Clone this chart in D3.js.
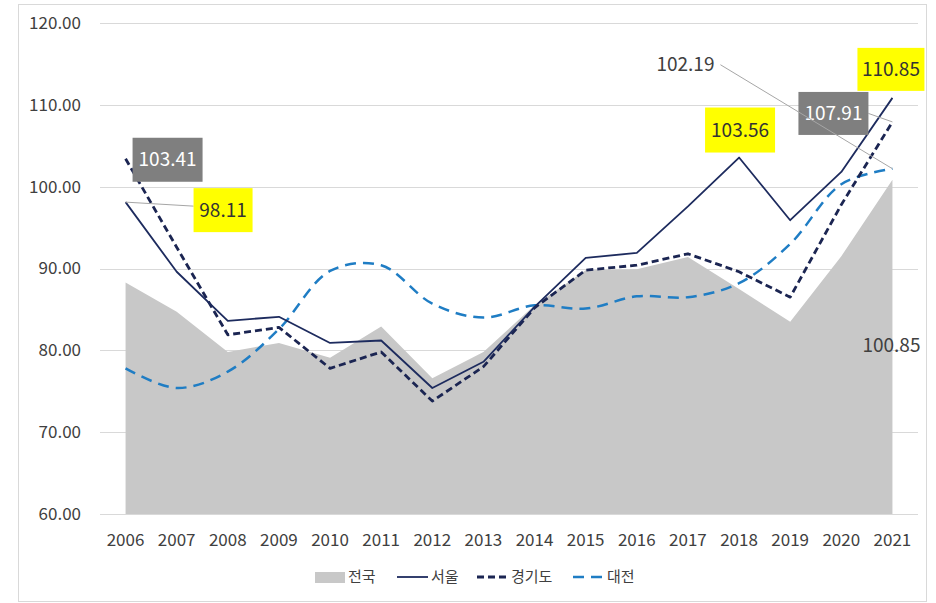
<!DOCTYPE html>
<meta charset="utf-8">
<style>
    * { margin: 0; padding: 0; }
    body { background: #fff; }
    svg text { font-family: "Noto Sans CJK KR", "Noto Sans", sans-serif; }
</style>
<body>
<svg id="chart" width="936" height="603"></svg>
<script src="https://cdn.jsdelivr.net/npm/d3@7"></script>
<script>
    const years = ["2006", "2007", "2008", "2009", "2010", "2011", "2012", "2013", "2014", "2015", "2016", "2017", "2018", "2019", "2020", "2021"];
    const national = [88.3, 84.7, 79.8, 80.9, 79.1, 82.9, 76.6, 79.8, 85.5, 89.8, 89.9, 91.4, 87.5, 83.5, 91.5, 100.85];
    const seoul = [98.11, 89.6, 83.6, 84.1, 80.9, 81.2, 75.4, 78.6, 85.3, 91.3, 91.9, 97.6, 103.56, 95.9, 101.8, 110.85];
    const gyeonggi = [103.41, 92.6, 81.9, 82.8, 77.8, 79.8, 73.8, 78.0, 85.2, 89.8, 90.4, 91.8, 89.6, 86.5, 97.8, 107.91];
    const daejeon = [77.8, 75.4, 77.4, 82.6, 89.7, 90.4, 85.7, 84.0, 85.5, 85.1, 86.6, 86.5, 88.2, 93.0, 100.3, 102.19];
    const yTicks = [60, 70, 80, 90, 100, 110, 120];

    const svg = d3.select("#chart");
    const x = d3.scalePoint().domain(years).range([100, 918]).padding(0.5);
    const y = d3.scaleLinear().domain([60, 120]).range([514, 23]);

    // frame
    svg.append("rect").attr("x", 18.5).attr("y", 4.5).attr("width", 908).attr("height", 597)
        .attr("fill", "none").attr("stroke", "#d9d9d9");

    // grid
    svg.append("g").selectAll("line").data(yTicks).join("line")
        .attr("x1", 100).attr("x2", 918)
        .attr("y1", d => Math.round(y(d)) + 0.5).attr("y2", d => Math.round(y(d)) + 0.5)
        .attr("stroke", "#d9d9d9");

    svg.append("g").selectAll("text").data(yTicks).join("text")
        .attr("x", 81).attr("y", d => y(d)).attr("dy", "0.35em")
        .attr("text-anchor", "end").attr("font-size", 17).attr("fill", "#404040")
        .text(d => d.toFixed(2));

    svg.append("g").selectAll("text").data(years).join("text")
        .attr("x", d => x(d)).attr("y", 546)
        .attr("text-anchor", "middle").attr("font-size", 17).attr("fill", "#404040")
        .text(d => d);

    // area 전국
    const area = d3.area().x((d, i) => x(years[i])).y0(y(60)).y1(d => y(d));
    svg.append("path").datum(national).attr("d", area).attr("fill", "#c8c8c8");

    const line = d3.line().x((d, i) => x(years[i])).y(d => y(d));
    const smooth = d3.line().x((d, i) => x(years[i])).y(d => y(d)).curve(d3.curveCatmullRom.alpha(0.5));

    const series = [
        { name: "대전", data: daejeon, color: "#1f7dc4", width: 2.5, dash: "11,7", gen: smooth },
        { name: "경기도", data: gyeonggi, color: "#1b2552", width: 2.8, dash: "7,4", gen: line },
        { name: "서울", data: seoul, color: "#1d2b5e", width: 1.8, dash: null, gen: line }
    ];
    series.forEach(s => {
        svg.append("path").datum(s.data).attr("d", s.gen)
            .attr("fill", "none").attr("stroke", s.color).attr("stroke-width", s.width)
            .attr("stroke-dasharray", s.dash).attr("stroke-linejoin", "round");
    });

    // data labels (offsets of the label box from its data point)
    const last = years.length - 1;
    const labels = [
        { v: gyeonggi[0], i: 0, dx: 7, dy: -21, w: 70, h: 44, bg: "#7f7f7f", fg: "#fff" },
        { v: seoul[0], i: 0, dx: 68, dy: -14, w: 59, h: 44, bg: "#ffff00", fg: "#333", leader: true },
        { v: seoul[12], i: 12, dx: -34, dy: -50, w: 70, h: 45, bg: "#ffff00", fg: "#333" },
        { v: seoul[last], i: last, dx: -35, dy: -50, w: 67, h: 43, bg: "#ffff00", fg: "#333" },
        { v: gyeonggi[last], i: last, dx: -94, dy: -30, w: 70, h: 43, bg: "#7f7f7f", fg: "#fff", leader: true },
        { v: daejeon[last], i: last, dx: -236, dy: -119, w: 0, h: 30, bg: null, fg: "#404040", leader: true },
        { v: national[last], i: last, dx: -30, dy: 151, w: 0, h: 30, bg: null, fg: "#404040" }
    ];
    labels.forEach(l => {
        const px = x(years[l.i]), py = y(l.v);
        const bx = px + l.dx, by = py + l.dy;
        if (l.leader) {
            let ex, ey;
            if (l.bg === null) { ex = bx + 64; ey = by + l.h / 2; }
            else if (l.dx > 0) { ex = bx; ey = by + l.h / 2 - 4; }
            else { ex = bx + l.w; ey = by + l.h / 2; }
            svg.append("path")
                .attr("d", `M${ex},${ey}L${px},${py}`)
                .attr("stroke", "#a6a6a6").attr("stroke-width", 1).attr("fill", "none");
        }
        if (l.bg) {
            svg.append("rect").attr("x", bx).attr("y", by).attr("width", l.w).attr("height", l.h).attr("fill", l.bg);
            svg.append("text").attr("x", bx + l.w / 2).attr("y", by + l.h / 2).attr("dy", "0.35em")
                .attr("text-anchor", "middle").attr("font-size", 19).attr("fill", l.fg).text(l.v.toFixed(2));
        } else {
            svg.append("text").attr("x", bx).attr("y", by + l.h / 2).attr("dy", "0.35em")
                .attr("font-size", 19).attr("fill", l.fg).text(l.v.toFixed(2));
        }
    });

    // legend
    const lg = svg.append("g").attr("transform", "translate(0,577)");
    lg.append("rect").attr("x", 315).attr("y", -5).attr("width", 30).attr("height", 11).attr("fill", "#c8c8c8");
    lg.append("text").attr("x", 348).attr("y", 0).attr("dy", "0.35em").attr("font-size", 15).attr("fill", "#404040").text("전국");
    const legendLines = [
        { x: 397, label: "서울", s: series[2] },
        { x: 477, label: "경기도", s: series[1] },
        { x: 573, label: "대전", s: series[0] }
    ];
    legendLines.forEach(d => {
        lg.append("line").attr("x1", d.x).attr("x2", d.x + 31).attr("y1", 0).attr("y2", 0)
            .attr("stroke", d.s.color).attr("stroke-width", d.s.width).attr("stroke-dasharray", d.s.dash);
        lg.append("text").attr("x", d.x + 34).attr("y", 0).attr("dy", "0.35em")
            .attr("font-size", 15).attr("fill", "#404040").text(d.label);
    });
</script>
</body>
</html>
